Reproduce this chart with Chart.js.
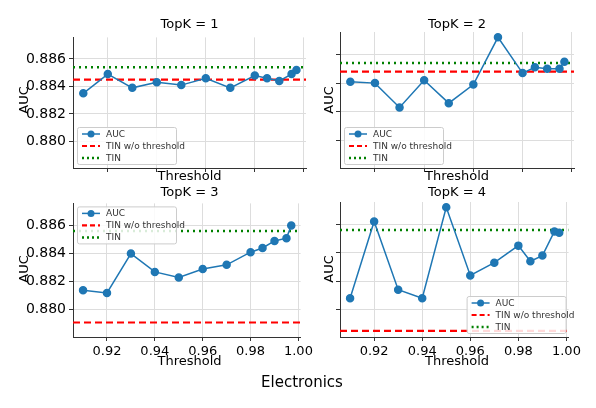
<!DOCTYPE html>
<html><head><meta charset="utf-8">
<script src="https://cdn.jsdelivr.net/npm/chart.js@4"></script>
<style>
body{margin:0;width:596px;height:408px;background:#fff;position:relative;font-family:"DejaVu Sans",sans-serif;overflow:hidden}
canvas{position:absolute}
.t{position:absolute;font-size:13px;color:#000;text-align:center;white-space:nowrap;line-height:16px}
.ylab{position:absolute;font-size:13px;width:40px;height:16px;line-height:16px;text-align:center;transform:rotate(-90deg)}
</style></head><body>
<canvas id="c1" style="left:0;top:26px" width="316" height="162"></canvas>
<canvas id="c2" style="left:330px;top:26px" width="254" height="162"></canvas>
<canvas id="c3" style="left:0;top:192px" width="316" height="183"></canvas>
<canvas id="c4" style="left:330px;top:192px" width="254" height="183"></canvas>
<div class="t" style="left:73px;width:233px;top:16px">TopK = 1</div>
<div class="t" style="left:340px;width:234px;top:16px">TopK = 2</div>
<div class="t" style="left:73px;width:233px;top:184px">TopK = 3</div>
<div class="t" style="left:340px;width:234px;top:184px">TopK = 4</div>
<div class="t" style="left:73px;width:233px;top:168px">Threshold</div>
<div class="t" style="left:340px;width:234px;top:168px">Threshold</div>
<div class="t" style="left:73px;width:233px;top:353px">Threshold</div>
<div class="t" style="left:340px;width:234px;top:353px">Threshold</div>
<div class="ylab" style="left:4px;top:92px">AUC</div>
<div class="ylab" style="left:309px;top:92px">AUC</div>
<div class="ylab" style="left:4px;top:261px">AUC</div>
<div class="ylab" style="left:309px;top:261px">AUC</div>
<div class="t" style="left:0;width:604px;top:374px;font-size:15px">Electronics</div>
<script>
const thresholds = [0.91, 0.92, 0.93, 0.94, 0.95, 0.96, 0.97, 0.98, 0.985, 0.99, 0.995, 0.997];
const auc1 = [0.8835, 0.8849, 0.8839, 0.8843, 0.8841, 0.8846, 0.8839, 0.8848, 0.8846, 0.8844, 0.8849, 0.8852];
const auc2 = [0.8841, 0.8840, 0.8823, 0.8842, 0.8826, 0.8839, 0.8872, 0.8847, 0.8851, 0.8850, 0.8850, 0.8855];
const auc3 = [0.8814, 0.8812, 0.8840, 0.8827, 0.8823, 0.8829, 0.8832, 0.8841, 0.8844, 0.8849, 0.8851, 0.8860];
const auc4 = [0.8808, 0.8862, 0.8814, 0.8808, 0.8872, 0.8824, 0.8833, 0.8845, 0.8834, 0.8838, 0.8855, 0.8854];
const tinNoThr = [0.8845, 0.8848, 0.8791, 0.8785];
const tin = [0.8854, 0.8854, 0.8856, 0.8856];
const xTicks = [0.92, 0.94, 0.96, 0.98, 1.00];
const yTicks = [0.880, 0.882, 0.884, 0.886];
const X_MIN = 0.9058, X_MAX = 1.0009, Y_MIN = 0.87807, Y_MAX = 0.88757;

const BLUE = "#1f77b4";

// legend drawn inside the plot, matplotlib style
const boxLegend = {
    id: "boxLegend",
    afterDraw(chart, args, opts) {
        const ctx = chart.ctx, a = chart.chartArea;
        const w = 99, h = 37;
        const x = opts.corner === "br" ? a.right - w - 3 : a.left + 4;
        const y = opts.corner === "tl" ? a.top + 3 : a.bottom - h - 4;
        ctx.save();
        ctx.fillStyle = "rgba(255,255,255,0.85)";
        ctx.strokeStyle = "#ccc";
        ctx.lineWidth = 1;
        ctx.beginPath(); ctx.roundRect(x + 0.5, y + 0.5, w, h, 2); ctx.fill(); ctx.stroke();
        ctx.font = "9px 'DejaVu Sans'";
        ctx.textBaseline = "middle";
        const rows = ["AUC", "TIN w/o threshold", "TIN"];
        rows.forEach((r, i) => {
            const cy = y + 7 + i * 12;
            ctx.beginPath();
            if (i === 0) { ctx.strokeStyle = BLUE; ctx.lineWidth = 1.5; ctx.setLineDash([]); }
            if (i === 1) { ctx.strokeStyle = "#ff0000"; ctx.lineWidth = 2.2; ctx.setLineDash([5, 3]); }
            if (i === 2) { ctx.strokeStyle = "#008000"; ctx.lineWidth = 2.5; ctx.setLineDash([2, 3]); }
            ctx.moveTo(x + 5, cy); ctx.lineTo(x + 23, cy); ctx.stroke();
            ctx.setLineDash([]);
            if (i === 0) { ctx.fillStyle = BLUE; ctx.beginPath(); ctx.arc(x + 14, cy, 3.5, 0, Math.PI * 2); ctx.fill(); }
            ctx.fillStyle = "#333";
            ctx.fillText(r, x + 29, cy + 0.5);
        });
        ctx.restore();
    }
};

function makePanel(id, auc, k, leftAxis, bottomRow, corner) {
    new Chart(document.getElementById(id), {
        type: "line",
        data: {
            datasets: [
                { data: thresholds.map((t, i) => ({ x: t, y: auc[i] })), borderColor: BLUE, backgroundColor: BLUE,
                  borderWidth: 1.5, pointRadius: 3.5, pointHoverRadius: 3.5, order: 0 },
                { data: [{ x: X_MIN, y: tinNoThr[k] }, { x: X_MAX, y: tinNoThr[k] }], borderColor: "#ff0000",
                  borderWidth: 2.2, borderDash: [7, 4], pointRadius: 0, order: 2 },
                { data: [{ x: X_MIN, y: tin[k] }, { x: X_MAX, y: tin[k] }], borderColor: "#008000",
                  borderWidth: 2.5, borderDash: [2, 4], pointRadius: 0, order: 1 }
            ]
        },
        options: {
            responsive: false, animation: false,
            layout: { padding: { top: bottomRow ? 10 : 6, right: 10, left: 0, bottom: 0 } },
            plugins: { legend: { display: false }, tooltip: { enabled: false }, boxLegend: { corner } },
            scales: {
                x: {
                    type: "linear", min: X_MIN, max: X_MAX,
                    afterBuildTicks: ax => { ax.ticks = xTicks.map(v => ({ value: v })); },
                    afterFit: ax => { ax.height = bottomRow ? 38 : 20; },
                    ticks: { display: bottomRow, color: "#000", font: { size: 13, family: "DejaVu Sans" },
                             callback: v => v.toFixed(2), maxRotation: 0 },
                    grid: { color: "#dddddd", tickColor: "#333", tickLength: 4 },
                    border: { color: "#333" }
                },
                y: {
                    min: Y_MIN, max: Y_MAX,
                    afterBuildTicks: ax => { ax.ticks = yTicks.map(v => ({ value: v })); },
                    afterFit: ax => { ax.width = leftAxis ? 73 : 10; },
                    ticks: { display: leftAxis, color: "#000", font: { size: 14, family: "DejaVu Sans" },
                             callback: v => v.toFixed(3) },
                    grid: { color: "#dddddd", tickColor: "#333", tickLength: 4 },
                    border: { color: "#333" }
                }
            }
        },
        plugins: [boxLegend]
    });
}

makePanel("c1", auc1, 0, true, false, "bl");
makePanel("c2", auc2, 1, false, false, "bl");
makePanel("c3", auc3, 2, true, true, "tl");
makePanel("c4", auc4, 3, false, true, "br");
</script>
</body></html>
